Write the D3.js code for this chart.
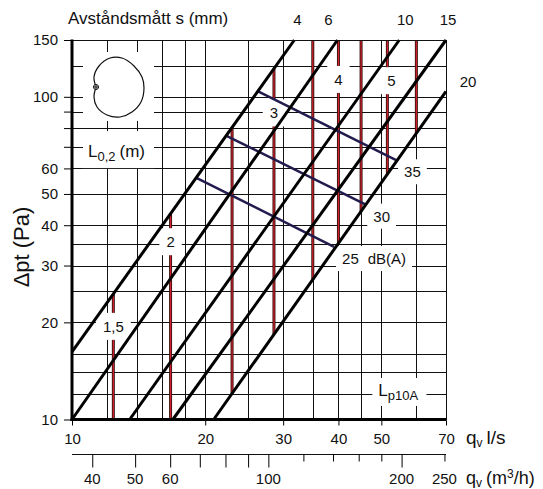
<!DOCTYPE html>
<html>
<head>
<meta charset="utf-8">
<script src="https://cdn.jsdelivr.net/npm/d3@7"></script>
<style>
  body { margin: 0; background: #fff; }
  text { font-family: "Liberation Sans", Arial, sans-serif; fill: #111; }
</style>
</head>
<body>
<div id="chart"></div>
<script>
var width = 543,
    height = 489;

// flow qv (l/s)
var qTicks = [10, 20, 30, 40, 50, 70];
var qGrid = [12, 14, 16, 18, 20, 25, 30, 35, 40, 45, 50, 60, 70];
// pressure drop (Pa)
var pTicks = [10, 20, 30, 40, 50, 60, 100, 150];
var pTickMarks = [10, 20, 30, 40, 50, 60, 70, 80, 90, 100, 150];
var pGrid = [12, 14, 16, 20, 25, 30, 35, 40, 50, 60, 70, 80, 90, 100, 125, 150];
// flow qv (m3/h)
var m3hMajor = [40, 50, 60, 70, 80, 90, 100, 200];
var m3hMinor = [120, 140, 160, 180, 250];
var m3hLabels = [40, 50, 60, 100, 200, 250];

// slot distance s (mm): line end points [qv, dpt]
var sLabels = ["4", "6", "10", "15", "20"];
var sFrom = [[10, 16.2], [10, 10], [13.5, 10], [16.9, 10], [20.9, 10]];
var sTo = [[31.8, 150], [39.8, 150], [54.9, 150], [70, 150], [70, 104]];

// sound level Lp10A dB(A): line end points [qv, dpt]
var dbLabels = ["25", "30", "35"];
var dbFrom = [[19.1, 56.1], [22.4, 75.6], [26.2, 104.4]];
var dbTo = [[39.1, 34.3], [46.0, 46.4], [54.0, 63.7]];

// throw L0,2 (m) at qv (l/s)
var throwQ = [12.4, 16.7, 23, 28.6, 35, 40, 45, 51.6, 60];
var throwLabels = ["1,5", "2", "", "3", "", "4", "", "5", ""];
var throwLabelP = [19.4, 35.5, 0, 89, 0, 113, 0, 112, 0];

var svg = d3.select("#chart")
    .append("svg")
    .attr("width", width)
    .attr("height", height)
    .style("background", "white");

var x = d3.scaleLog().domain([10, 70]).range([72, 446]);
var x2 = d3.scaleLog().domain([36, 252]).range([72, 446]);
var y = d3.scaleLog().domain([10, 150]).range([419.5, 40]);

// p on a straight log-log line at flow q
function onLine(a, b, q) {
    var t = Math.log(q / a[0]) / Math.log(b[0] / a[0]);
    return Math.exp(Math.log(a[1]) + t * Math.log(b[1] / a[1]));
}

// grid
var grid = svg.append("g").attr("shape-rendering", "crispEdges");
grid.selectAll(".vg").data(qGrid).enter().append("line")
    .attr("x1", function (d) { return Math.round(x(d)) + 0.5; })
    .attr("x2", function (d) { return Math.round(x(d)) + 0.5; })
    .attr("y1", y(150)).attr("y2", y(10))
    .attr("stroke", "#111").attr("stroke-width", 1);
grid.selectAll(".hg").data(pGrid).enter().append("line")
    .attr("x1", x(10)).attr("x2", x(70))
    .attr("y1", function (d) { return Math.round(y(d)) + 0.5; })
    .attr("y2", function (d) { return Math.round(y(d)) + 0.5; })
    .attr("stroke", "#111").attr("stroke-width", 1);

// inset area (throw pattern) cuts the grid
svg.append("rect").attr("x", x(10) + 11).attr("y", y(150) + 12)
    .attr("width", 71).attr("height", 69).attr("fill", "white");
svg.append("rect").attr("x", x(10) + 11).attr("y", y(80) + 3)
    .attr("width", 71).attr("height", 37).attr("fill", "white");

// throw lines (red)
var throwG = svg.append("g");
throwQ.forEach(function (q) {
    var pTop = Math.min(150, onLine(sFrom[0], sTo[0], q));
    var pBot = Math.max(10, onLine(sFrom[4], sTo[4], q));
    throwG.append("line")
        .attr("x1", x(q)).attr("x2", x(q)).attr("y1", y(pTop)).attr("y2", y(pBot))
        .attr("stroke", "#3a1212").attr("stroke-width", 3);
    throwG.append("line")
        .attr("x1", x(q)).attr("x2", x(q)).attr("y1", y(pTop)).attr("y2", y(pBot))
        .attr("stroke", "#d0202a").attr("stroke-width", 1.2);
});

// labels with white boxes
var labelG = svg.append("g");
function boxLabel(str, cx, cy, size, padX, padY) {
    var t = labelG.append("text").attr("x", cx).attr("y", cy).attr("dy", "0.35em")
        .attr("text-anchor", "middle").attr("font-size", size).text(str);
    var b = t.node().getBBox();
    labelG.insert("rect", "text")
        .attr("x", b.x - padX).attr("y", b.y - padY)
        .attr("width", b.width + 2 * padX).attr("height", b.height + 2 * padY)
        .attr("fill", "white");
    return t;
}
throwQ.forEach(function (q, i) {
    if (throwLabels[i] === "") return;
    var dx = throwLabels[i] === "5" ? 4 : 0;
    boxLabel(throwLabels[i], x(q) + dx, y(throwLabelP[i]), 15, 7, 5);
});

// dB(A) lines
var dbG = svg.append("g");
dbFrom.forEach(function (a, i) {
    var b = dbTo[i];
    dbG.append("line")
        .attr("x1", x(a[0])).attr("y1", y(a[1])).attr("x2", x(b[0])).attr("y2", y(b[1]))
        .attr("stroke", "#221c4e").attr("stroke-width", 2.5);
    var t = labelG.append("text").attr("x", x(b[0]) + 8).attr("y", y(b[1]) + 12)
        .attr("dy", "0.35em").attr("font-size", 15).text(dbLabels[i]);
    if (i === 0) t.append("tspan").attr("dx", 9).text("dB(A)");
    var bb = t.node().getBBox();
    labelG.insert("rect", "text")
        .attr("x", bb.x - 6).attr("y", bb.y - 4)
        .attr("width", bb.width + 12).attr("height", bb.height + 8)
        .attr("fill", "white");
});

// Lp10A label
var lp = labelG.append("text").attr("x", x(50) - 3).attr("y", y(12) + 2).attr("font-size", 17);
lp.append("tspan").text("L");
lp.append("tspan").attr("dy", 4).attr("font-size", 13).text("p10A");
var lb = lp.node().getBBox();
labelG.insert("rect", "text").attr("x", lb.x - 6).attr("y", lb.y - 3)
    .attr("width", lb.width + 14).attr("height", lb.height + 6).attr("fill", "white");

// s lines (black)
var sG = svg.append("g");
sFrom.forEach(function (a, i) {
    var b = sTo[i];
    sG.append("line")
        .attr("x1", x(a[0])).attr("y1", y(a[1])).attr("x2", x(b[0])).attr("y2", y(b[1]))
        .attr("stroke", "#000").attr("stroke-width", 3).attr("stroke-linecap", "butt");
});
var sDx = [3, -9, 6, 2];
sTo.forEach(function (b, i) {
    if (i < 4) {
        svg.append("text").attr("x", x(b[0]) + sDx[i]).attr("y", 25)
            .attr("text-anchor", "middle").attr("font-size", 15).text(sLabels[i]);
    } else {
        svg.append("text").attr("x", x(b[0]) + 22).attr("y", y(b[1]) - 4)
            .attr("text-anchor", "middle").attr("font-size", 15).text(sLabels[i]);
    }
});

// borders and main axes
svg.append("line").attr("x1", x(10)).attr("x2", x(70)).attr("y1", 40.5).attr("y2", 40.5)
    .attr("stroke", "#111");
svg.append("line").attr("x1", x(10)).attr("x2", x(10)).attr("y1", y(150) - 0.5).attr("y2", y(10) + 1.5)
    .attr("stroke", "#000").attr("stroke-width", 3);
svg.append("line").attr("x1", x(10) - 1.5).attr("x2", x(70) + 0.5).attr("y1", y(10)).attr("y2", y(10))
    .attr("stroke", "#000").attr("stroke-width", 3);

// x axis l/s
var xAxis = svg.append("g").attr("transform", "translate(0," + (y(10) + 1) + ")")
    .call(d3.axisBottom(x).tickValues(qTicks).tickSize(5).tickPadding(8)
        .tickFormat(d3.format("d")));
xAxis.select(".domain").remove();
xAxis.selectAll("text").attr("font-size", 15).attr("fill", "#111");

// y axis Pa
var yAxis = svg.append("g").attr("transform", "translate(" + x(10) + ",0)")
    .call(d3.axisLeft(y).tickValues(pTickMarks).tickSize(8).tickPadding(6)
        .tickFormat(function (d) { return pTicks.indexOf(d) >= 0 ? d : ""; }));
yAxis.select(".domain").remove();
yAxis.selectAll("text").attr("font-size", 15).attr("fill", "#111");

// second x axis m3/h
var axis2Y = 454.5;
svg.append("line").attr("x1", x2(36)).attr("x2", x2(252)).attr("y1", axis2Y).attr("y2", axis2Y)
    .attr("stroke", "#111");
var a2 = svg.append("g").attr("transform", "translate(0," + axis2Y + ")")
    .call(d3.axisBottom(x2).tickValues(m3hMajor).tickSize(13).tickFormat(""));
a2.select(".domain").remove();
var a2m = svg.append("g").attr("transform", "translate(0," + axis2Y + ")")
    .call(d3.axisBottom(x2).tickValues(m3hMinor).tickSize(7).tickFormat(""));
a2m.select(".domain").remove();
svg.append("g").selectAll("text").data(m3hLabels).enter().append("text")
    .attr("x", function (d) { return x2(d); }).attr("y", 484)
    .attr("text-anchor", "middle").attr("font-size", 15).text(function (d) { return d; });

// axis titles
var q1 = svg.append("text").attr("x", 466).attr("y", 444).attr("font-size", 19);
q1.append("tspan").text("q");
q1.append("tspan").attr("dy", 3).attr("font-size", 12).text("v");
q1.append("tspan").attr("dy", -3).attr("dx", 4).text("l/s");
var q2 = svg.append("text").attr("x", 466).attr("y", 484).attr("font-size", 18);
q2.append("tspan").text("q");
q2.append("tspan").attr("dy", 3).attr("font-size", 12).text("v");
q2.append("tspan").attr("dy", -3).attr("dx", 4).text("(m");
q2.append("tspan").attr("dy", -6).attr("font-size", 12).text("3");
q2.append("tspan").attr("dy", 6).text("/h)");

svg.append("text").attr("transform", "translate(29,247) rotate(-90)")
    .attr("text-anchor", "middle").attr("font-size", 22).text("Δpt (Pa)");
svg.append("text").attr("x", 68).attr("y", 24).attr("font-size", 17).text("Avståndsmått s (mm)");

// inset: throw pattern
var inset = svg.append("g").attr("transform", "translate(" + (x(10) + 46) + "," + (y(150) + 47) + ")");
var shape = [[-22, 0], [-24, -10], [-19, -21], [-8, -29], [4, -29], [16, -21], [24, -10], [26, 1],
    [23, 15], [14, 25], [2, 30], [-11, 28], [-21, 20], [-24, 10], [-22, 0]];
inset.append("path").attr("d", d3.line().curve(d3.curveCatmullRom)(shape))
    .attr("fill", "none").attr("stroke", "#111").attr("stroke-width", 1.2);
inset.append("circle").attr("cx", -22).attr("cy", 0).attr("r", 2.5)
    .attr("fill", "white").attr("stroke", "#111").attr("stroke-width", 1);
inset.append("path").attr("d", "M-25,0H-19M-22,-3V3").attr("stroke", "#111").attr("stroke-width", 1);
var lt = inset.append("text").attr("x", -30).attr("y", 70).attr("font-size", 17);
lt.append("tspan").text("L");
lt.append("tspan").attr("dy", 4).attr("font-size", 13).text("0,2");
lt.append("tspan").attr("dy", -4).attr("dx", 4).text("(m)");
</script>
</body>
</html>
